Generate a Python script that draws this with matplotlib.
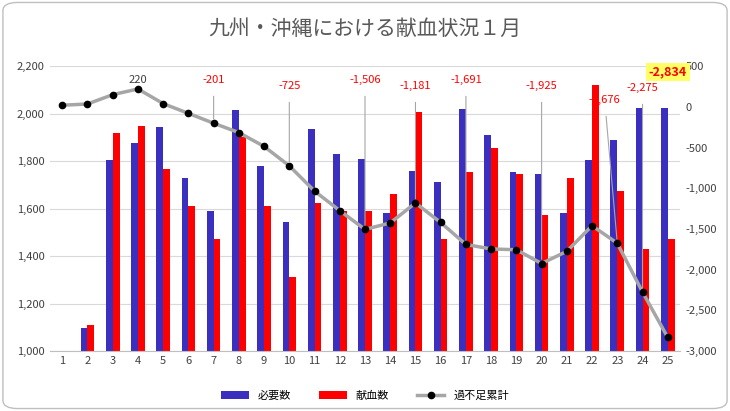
import matplotlib.pyplot as plt
import numpy as np
from matplotlib.patches import FancyBboxPatch

days = list(range(1, 26))
need = [1000,1095,1805,1875,1945,1730,1590,2015,1780,1545,1935,1830,1810,1580,1760,1710,2020,1910,1755,1745,1580,1805,1890,2025,2025]
donated = [1000,1110,1920,1950,1765,1610,1470,1900,1610,1310,1625,1590,1590,1660,2005,1470,1755,1855,1745,1575,1730,2120,1675,1430,1470]
cum = [20,35,150,220,40,-80,-201,-316,-486,-725,-1035,-1275,-1506,-1426,-1181,-1421,-1691,-1746,-1756,-1925,-1775,-1460,-1676,-2275,-2834]
ann_days = [7,10,13,15,17,20,23,24]
ann_y = [328,254,328,254,328,254,82,230]

plt.rcParams['font.family'] = ['Noto Sans CJK JP']
fig = plt.figure(figsize=(7.3,4.11), dpi=100)
fig.patches.append(FancyBboxPatch((0.004,0.006),0.992,0.988,boxstyle="round,pad=0,rounding_size=0.02",
    transform=fig.transFigure, fc='none', ec='#bfbfbf', lw=1, zorder=-10))
ax = fig.add_axes([0.068,0.146,0.864,0.693])
ax.patch.set_alpha(0)
x = np.array(days)
w = 0.27
ax.bar(x-w/2, [v-1000 for v in need], w, bottom=1000, color='#3b2fc0', label='必要数', zorder=2)
ax.bar(x+w/2, [v-1000 for v in donated], w, bottom=1000, color='#ff0000', label='献血数', zorder=2)
ax.set_ylim(1000,2200)
ax.set_yticks(range(1000,2201,200))
ax.set_yticklabels([f'{v:,}' for v in range(1000,2201,200)])
ax.set_xlim(0.5,25.5)
ax.set_xticks(days)
ax.grid(axis='y', color='#d9d9d9', lw=0.8, zorder=0)
ax.set_axisbelow(True)
for s in ['top','right','left']:
    ax.spines[s].set_visible(False)
ax.spines['bottom'].set_color('#bfbfbf')
ax.tick_params(length=0, labelsize=8, colors='#404040')
ax2 = ax.twinx()
ax2.plot(x, cum, color='#a6a6a6', lw=2.5, marker='o', ms=4.5, mfc='black', mec='black', label='過不足累計', zorder=3)
ax2.set_ylim(-3000,500)
ax2.set_yticks(range(-3000,501,500))
ax2.set_yticklabels([f'{v:,}' for v in range(-3000,501,500)])
for s in ax2.spines.values():
    s.set_visible(False)
ax2.tick_params(length=0, labelsize=8, colors='#404040')
ax2.text(4, cum[3]+50, '220', ha='center', va='bottom', fontsize=8, color='#404040')
for d, yy in zip(ann_days, ann_y):
    c = cum[d-1]
    xt = d - 0.5 if d == 23 else d
    ax2.annotate(f'{c:,}', xy=(d, c), xytext=(xt, yy), ha='center', va='center', fontsize=8, color='red',
                 arrowprops=dict(arrowstyle='-', color='#a6a6a6', lw=0.8, shrinkA=6, shrinkB=3))
ax2.text(25, 426, f'{cum[24]:,}', ha='center', va='center', fontsize=9, color='red', fontweight='bold',
         bbox=dict(fc='#ffff66', ec='none', pad=2))
fig.text(0.5, 0.93, '九州・沖縄における献血状況１月', ha='center', va='center', fontsize=15, color='#595959')
h1, l1 = ax.get_legend_handles_labels()
h2, l2 = ax2.get_legend_handles_labels()
fig.legend(h1+h2, l1+l2, loc='lower center', bbox_to_anchor=(0.5,0.0), ncol=3, frameon=False, fontsize=8,
           handlelength=2.5, columnspacing=2.5)
fig.savefig('out.png', dpi=100)
